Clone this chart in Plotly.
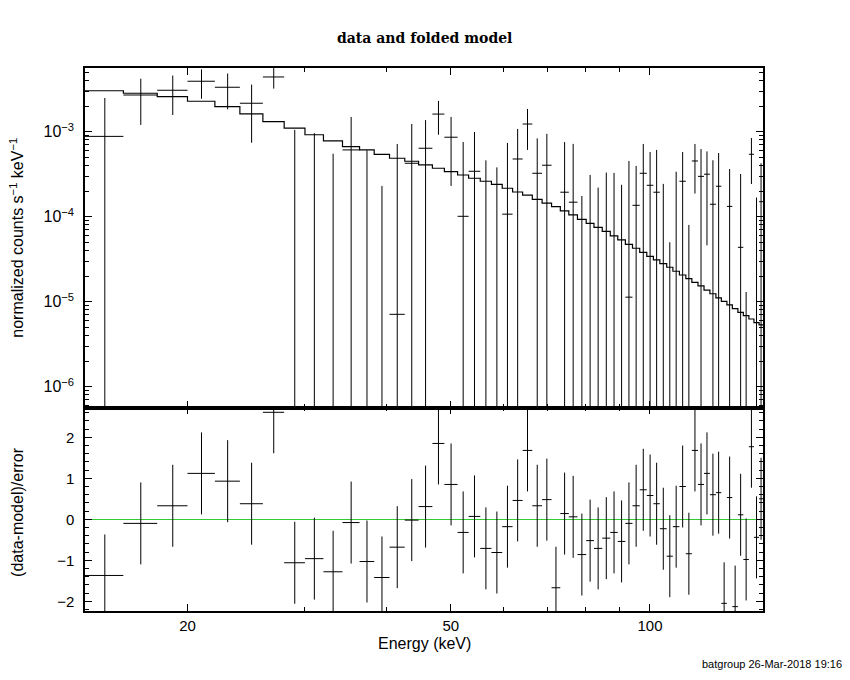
import numpy as np
import plotly.graph_objects as go

# channel boundaries (keV), one more than the number of channels
e_edges = [14.0, 16.0, 18.0, 20.0, 22.0, 24.0, 26.0, 28.0, 30.1, 32.1,
           34.3, 36.4, 38.3, 40.4, 42.6, 44.7, 46.9, 48.9, 51.2, 53.2,
           55.4, 57.6, 59.8, 62.0, 64.2, 66.4, 68.7, 71.0, 73.2, 75.4,
           77.7, 80.1, 82.3, 84.7, 87.1, 89.4, 91.8, 94.1, 96.5, 98.9,
           101.2, 103.5, 106.0, 108.3, 110.8, 113.3, 115.7, 118.2, 120.7, 123.2,
           125.8, 128.2, 130.7, 133.2, 135.8, 138.4, 141.1, 143.6, 146.2, 148.2]

# folded model (counts s-1 keV-1)
model = [3.03e-3, 2.83e-3, 2.58e-3, 2.28e-3, 1.97e-3, 1.62e-3, 1.31e-3, 1.10e-3, 9.2e-4, 7.78e-4,
         6.67e-4, 6.10e-4, 5.42e-4, 4.87e-4, 4.49e-4, 4.06e-4, 3.71e-4, 3.38e-4, 3.09e-4, 2.83e-4,
         2.61e-4, 2.40e-4, 2.16e-4, 1.95e-4, 1.79e-4, 1.60e-4, 1.44e-4, 1.31e-4, 1.17e-4, 1.05e-4,
         9.31e-5, 8.36e-5, 7.50e-5, 6.73e-5, 5.93e-5, 5.32e-5, 4.73e-5, 4.25e-5, 3.81e-5, 3.42e-5,
         3.10e-5, 2.80e-5, 2.54e-5, 2.28e-5, 2.06e-5, 1.87e-5, 1.69e-5, 1.53e-5, 1.37e-5, 1.24e-5,
         1.11e-5, 1.01e-5, 9.15e-6, 8.27e-6, 7.50e-6, 6.84e-6, 6.25e-6, 5.66e-6, 5.32e-6]

# data and 1-sigma errors
rate = [8.8e-4, 2.7e-3, 3.07e-3, 3.92e-3, 3.33e-3, 2.16e-3, 4.40e-3, -1.0e-4, -1.4e-4, -2.8e-4,
        6.1e-4, -1.6e-5, -5.1e-4, 7.1e-6, 4.25e-4, 6.38e-4, 1.61e-3, 8.6e-4, 1.01e-4, 3.42e-4,
        -2.4e-4, -3.8e-4, 1.07e-4, 4.77e-4, 1.23e-3, 3.24e-4, 4.03e-4, -8.7e-4, 1.94e-4, 1.48e-4,
        -4.1e-4, -1.6e-4, -2.8e-4, -1.5e-4, -6.7e-5, -1.6e-4, 1.13e-5, 1.36e-4, 3.24e-4, 2.34e-4,
        1.94e-4, -3.6e-5, -2.4e-4, -4.6e-5, 2.61e-4, -3.0e-4, 4.52e-4, 2.98e-4, 3.16e-4, 1.40e-4,
        2.28e-4, -6.7e-4, 1.32e-4, -6.3e-4, 4.36e-5, -2.77e-4, 5.42e-4, -1.2e-4, 1.5e-4]
rate_err = [1.61e-3, 1.5e-3, 1.5e-3, 1.48e-3, 1.5e-3, 1.42e-3, 1.19e-3, 1.15e-3, 1.1e-3, 8.3e-4,
            8.8e-4, 6.2e-4, 7.4e-4, 7.1e-4, 8.05e-4, 7.3e-4, 6.9e-4, 6.3e-4, 6.56e-4, 6.5e-4,
            7.0e-4, 7.6e-4, 6.3e-4, 6.0e-4, 6.2e-4, 5.1e-4, 5.4e-4, 6.0e-4, 5.6e-4, 5.7e-4,
            5.85e-4, 4.7e-4, 5.0e-4, 4.8e-4, 3.94e-4, 3.97e-4, 4.41e-4, 2.59e-4, 3.93e-4, 3.43e-4,
            4.16e-4, 2.79e-4, 2.9e-4, 3.84e-4, 3.16e-4, 3.8e-4, 2.65e-4, 3.27e-4, 2.7e-4, 3.21e-4,
            3.33e-4, 3.3e-4, 2.32e-4, 3.0e-4, 2.74e-4, 2.9e-4, 3.0e-4, 2.88e-4, 2.75e-4]

# (data-model)/error
resid = [-1.37, -0.10, 0.33, 1.12, 0.93, 0.38, 2.61, -1.06, -0.96, -1.28,
         -0.08, -1.03, -1.42, -0.68, -0.02, 0.31, 1.85, 0.85, -0.32, 0.07,
         -0.71, -0.81, -0.18, 0.46, 1.68, 0.33, 0.48, -1.67, 0.14, 0.06,
         -0.86, -0.52, -0.71, -0.46, -0.32, -0.54, -0.10, 0.33, 0.72, 0.58,
         0.38, -0.23, -0.90, -0.18, 0.80, -0.84, 1.68, 0.85, 1.12, 0.60,
         0.65, -2.05, 0.53, -2.13, 0.11, -0.98, 1.77, -0.44, 0.50]

FLOOR = 1e-9  # lower end for bars that go below zero on the log axis
FONT = "Liberation Sans"


def crosses(vals, errs, log=False):
    # xspec style crosses: channel width horizontally, +-err vertically
    xs, ys = [], []
    for i in range(len(vals)):
        lo, hi = e_edges[i], e_edges[i + 1]
        mid = 0.5 * (lo + hi)
        v, e = vals[i], errs[i]
        if not log or v > 0:
            xs += [lo, hi, None]
            ys += [v, v, None]
        if not log or v + e > 0:
            bot = max(v - e, FLOOR) if log else v - e
            xs += [mid, mid, None]
            ys += [bot, v + e, None]
    return xs, ys


fig = go.Figure()

dx, dy = crosses(rate, rate_err, log=True)
fig.add_trace(go.Scatter(x=dx, y=dy, mode="lines", line=dict(color="black", width=1),
                         xaxis="x", yaxis="y", showlegend=False))
fig.add_trace(go.Scatter(x=e_edges, y=model + [model[-1]], mode="lines", line_shape="hv",
                         line=dict(color="black", width=1.2), xaxis="x", yaxis="y",
                         showlegend=False))

rx, ry = crosses(resid, [1.0] * len(resid))
fig.add_trace(go.Scatter(x=rx, y=ry, mode="lines", line=dict(color="black", width=1),
                         xaxis="x2", yaxis="y2", showlegend=False))

split = 203.5 / 543
xrange_ = [np.log10(e_edges[0]), np.log10(e_edges[-1])]
minor_x = [30, 40, 60, 70, 80, 90]
minor_y = [k * 10.0 ** p for p in range(-7, -2) for k in range(2, 10)]

common_x = dict(type="log", range=xrange_, showgrid=False, zeroline=False,
                showline=True, linecolor="black", linewidth=1.5, mirror="allticks",
                ticks="inside", ticklen=7, tickwidth=1, tickcolor="black",
                tickvals=[20, 50, 100], ticktext=["20", "50", "100"],
                minor=dict(tickvals=minor_x, ticks="inside", ticklen=4, tickcolor="black"),
                tickfont=dict(family=FONT, size=15, color="black"))

# the page body has an 8px margin, so the figure is kept inside the window
fig.update_layout(
    width=842, height=664,
    margin=dict(l=77, r=87, t=60, b=61),
    paper_bgcolor="white", plot_bgcolor="white",
    xaxis=dict(common_x, anchor="y", domain=[0, 1], showticklabels=False),
    xaxis2=dict(common_x, anchor="y2", domain=[0, 1], showticklabels=True),
    yaxis=dict(type="log", domain=[split, 1], range=[-6.245, -2.251], anchor="x",
               showgrid=False, zeroline=False, showline=True, linecolor="black",
               linewidth=1.5, mirror="allticks", ticks="inside", ticklen=7, tickwidth=1,
               tickcolor="black", tickvals=[1e-6, 1e-5, 1e-4, 1e-3],
               ticktext=["10<sup>−6</sup>", "10<sup>−5</sup>", "10<sup>−4</sup>", "10<sup>−3</sup>"],
               ticklabelstandoff=6,
               minor=dict(tickvals=minor_y, ticks="inside", ticklen=4, tickcolor="black"),
               tickfont=dict(family=FONT, size=16, color="black")),
    yaxis2=dict(domain=[0, split], range=[-2.237, 2.727], anchor="x2",
                showgrid=False, showline=True, linecolor="black", linewidth=1.5,
                mirror="allticks", ticks="inside", ticklen=7, tickwidth=1, tickcolor="black",
                tickvals=[-2, -1, 0, 1, 2], ticklabelstandoff=6,
                zeroline=True, zerolinecolor="#33cc33", zerolinewidth=1,
                minor=dict(dtick=0.2, ticks="inside", ticklen=4, tickcolor="black"),
                tickfont=dict(family=FONT, size=15, color="black")),
)

fig.add_annotation(text="<b>data and folded model</b>", xref="paper", yref="paper",
                   x=0.501, y=1.055, showarrow=False, yanchor="middle",
                   font=dict(family="DejaVu Serif", size=14, color="black"))
fig.add_annotation(text="Energy (keV)", xref="paper", yref="paper", x=0.501, y=-0.059,
                   showarrow=False, yanchor="middle",
                   font=dict(family=FONT, size=16, color="black"))
fig.add_annotation(text="normalized counts s<sup>−1</sup> keV<sup>−1</sup>", xref="paper",
                   yref="paper", x=-0.1007, y=0.687, textangle=-90, showarrow=False,
                   xanchor="center", yanchor="middle",
                   font=dict(family=FONT, size=16, color="black"))
fig.add_annotation(text="(data-model)/error", xref="paper", yref="paper", x=-0.1007,
                   y=0.182, textangle=-90, showarrow=False, xanchor="center",
                   yanchor="middle", font=dict(family=FONT, size=16, color="black"))
fig.add_annotation(text="batgroup 26-Mar-2018 19:16", xref="paper", yref="paper",
                   x=1.1195, y=-0.0976, xanchor="right", yanchor="middle", showarrow=False,
                   font=dict(family=FONT, size=11, color="black"))

fig.write_html("out.html")
